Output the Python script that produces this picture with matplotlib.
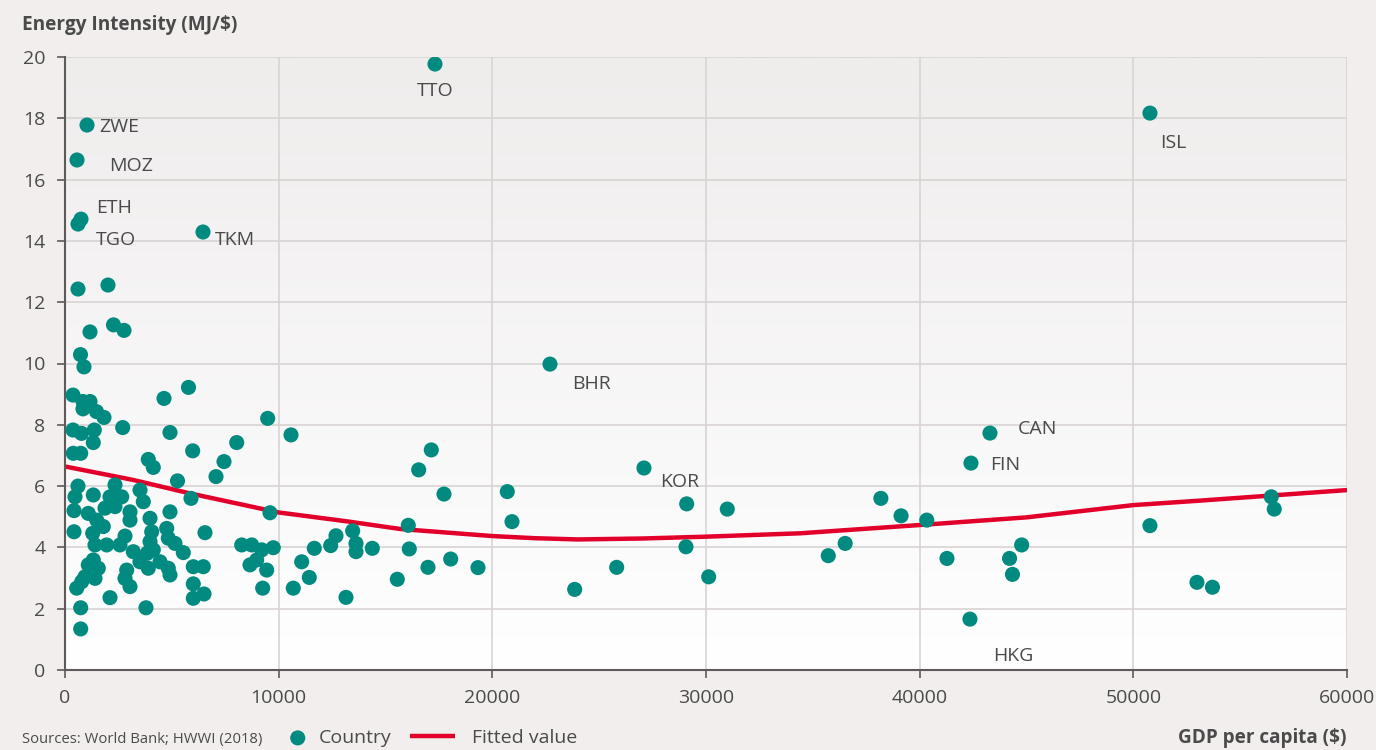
import numpy as np
import matplotlib
matplotlib.use("Agg")
import matplotlib.pyplot as plt
from matplotlib.colors import LinearSegmentedColormap

plt.rcParams['font.family'] = ['Open Sans', 'DejaVu Sans']

# GDP per capita ($) and energy intensity (MJ/$)
gdp = [
    608, 2012, 2270, 2761, 1170, 725, 889,
    374, 842, 1170, 842, 1474, 1825, 4633, 5780, 374, 772, 1371, 1324, 2700,
    4914, 5976, 388, 735, 3898, 4132, 5265,
    9486, 10577, 8036, 7441, 7067, 5897, 9594, 6552,
    608, 2340, 3510, 468, 1324, 2106, 2654, 3664, 421, 1090, 1872, 2340, 3042,
    3042, 3978, 4914, 1484, 1792, 421, 1296, 2808, 4058, 4760, 1404, 1952, 2574,
    3196, 3978, 4132, 3852, 4834, 5148, 5536, 1324, 1090, 1558, 3510, 3898, 4446,
    4834, 4914, 6004, 6472, 2888, 2808, 3042, 1404, 936, 782, 548, 2106, 3791,
    6004, 6004, 6505, 735, 735,
    8270, 8738, 9206, 9748, 8658, 8972, 9440, 9252, 10684, 11078, 11433, 11667, 12435,
    12683, 13464, 13619, 13619, 14382, 13151, 15552, 16066, 16113, 16553, 17143,
    17737, 16988, 18051, 19328, 20700, 20920, 23854,
    29096, 30996, 29063, 25820, 30125,
    38184, 39129, 40332, 36513, 35722, 41278, 44207, 44774, 44343, 50778, 52978,
    53703, 56455, 56595,
]
intensity = [
    12.43, 12.56, 11.26, 11.08, 11.03, 10.29, 9.89,
    8.97, 8.76, 8.76, 8.52, 8.43, 8.24, 8.86, 9.22, 7.83, 7.72, 7.83, 7.42, 7.91,
    7.75, 7.15, 7.07, 7.07, 6.87, 6.61, 6.17,
    8.21, 7.67, 7.42, 6.80, 6.31, 5.60, 5.13, 4.48,
    6.00, 6.04, 5.87, 5.65, 5.71, 5.65, 5.65, 5.49, 5.20, 5.11, 5.28, 5.33, 5.16,
    4.89, 4.95, 5.16, 4.89, 4.68, 4.51, 4.46, 4.37, 4.51, 4.62, 4.08, 4.08, 4.08,
    3.86, 4.19, 3.92, 3.81, 4.30, 4.13, 3.83, 3.59, 3.43, 3.32, 3.53, 3.32, 3.53,
    3.32, 3.10, 3.37, 3.37, 3.26, 2.99, 2.72, 2.99, 3.04, 2.88, 2.67, 2.36, 2.03,
    2.81, 2.34, 2.48, 2.03, 1.34,
    4.08, 4.08, 3.92, 3.99, 3.43, 3.59, 3.26, 2.67, 2.67, 3.53, 3.02, 3.97, 4.06,
    4.38, 4.54, 4.13, 3.86, 3.97, 2.37, 2.96, 4.72, 3.95, 6.53, 7.18,
    5.74, 3.35, 3.62, 3.34, 5.82, 4.84, 2.63,
    5.42, 5.25, 4.02, 3.35, 3.04,
    5.60, 5.03, 4.89, 4.13, 3.73, 3.64, 3.64, 4.08, 3.12, 4.71, 2.86,
    2.70, 5.65, 5.25,
]

# labelled countries
codes = ['TTO', 'ZWE', 'MOZ', 'ETH', 'TGO', 'TKM', 'ISL', 'BHR', 'CAN', 'FIN', 'KOR', 'HKG']
code_gdp = [17316, 1030, 562, 749, 608, 6458, 50778, 22698, 43290, 42401, 27097, 42354]
code_int = [19.77, 17.78, 16.64, 14.71, 14.55, 14.29, 18.17, 9.98, 7.73, 6.75, 6.59, 1.66]
# label offsets in pixels (dx, dy)
code_off = [(0, -27), (12, -2), (32, -6), (15, 11), (18, -16), (12, -8),
            (10, -30), (22, -20), (28, 4), (19, -2), (16, -14), (23, -37)]

# fitted curve
fit_x = [0, 3200, 5800, 10000, 13300, 15700, 20000, 22000, 24000, 27000, 30000,
         34400, 40000, 45000, 50000, 53000, 60000]
fit_y = [6.64, 6.20, 5.77, 5.14, 4.84, 4.60, 4.37, 4.30, 4.26, 4.29, 4.35,
         4.46, 4.73, 4.98, 5.38, 5.52, 5.87]

bg = '#f2eeed'
teal = '#008a80'
red = '#e2002a'
txt = '#4a4a4a'

fig = plt.figure(figsize=(13.76, 7.5), dpi=100, facecolor=bg)
ax = fig.add_axes([65 / 1376, 80 / 750, 1282 / 1376, 613 / 750])

# background gradient (grey at top to white at bottom)
cmap = LinearSegmentedColormap.from_list('bgfade', ['#efecec', '#ffffff'])
ax.imshow(np.linspace(0, 1, 256).reshape(-1, 1), extent=[0, 1, 0, 1],
          transform=ax.transAxes, cmap=cmap, aspect='auto', zorder=0)

line, = ax.plot(fit_x, fit_y, color=red, lw=3.2, zorder=2, solid_capstyle='butt',
                solid_joinstyle='round')
pts = ax.scatter(gdp + code_gdp, intensity + code_int, s=118, color=teal,
                 edgecolors='none', zorder=3)

for c, xv, yv, (dx, dy) in zip(codes, code_gdp, code_int, code_off):
    ax.annotate(c, (xv, yv), xytext=(dx, dy), textcoords='offset pixels',
                fontsize=14, color=txt, va='center', ha='left' if c != 'TTO' else 'center')

ax.set_xlim(0, 60000)
ax.set_ylim(0, 20)
ax.set_xticks(np.arange(0, 60001, 10000))
ax.set_yticks(np.arange(0, 21, 2))
ax.grid(color='#d9d4d4', lw=1.2)
ax.set_axisbelow(True)
for s in ['top', 'right']:
    ax.spines[s].set_visible(False)
for s in ['left', 'bottom']:
    ax.spines[s].set_color('#5e5a5a')
    ax.spines[s].set_linewidth(1.5)
ax.tick_params(length=6, width=1.2, color='#5e5a5a', labelsize=14,
               labelcolor=txt, pad=8)

fig.text(22 / 1376, 1 - 25 / 750, 'Energy Intensity (MJ/$)', fontsize=13.7,
         fontweight='bold', color=txt, va='center', ha='left')
fig.text(1347 / 1376, 1 - 738 / 750, 'GDP per capita ($)', fontsize=13.6,
         fontweight='bold', color=txt, va='center', ha='right')
fig.text(22 / 1376, 1 - 739 / 750, 'Sources: World Bank; HWWI (2018)', fontsize=10.7,
         color=txt, va='center', ha='left')

leg1 = fig.legend([pts], ['Country'], loc='center left',
                  bbox_to_anchor=(288 / 1376, 1 - 738 / 750), frameon=False,
                  fontsize=14, labelcolor=txt, handlelength=1.0, handletextpad=0.58,
                  borderpad=0, borderaxespad=0, scatterpoints=1)
leg2 = fig.legend([line], ['Fitted value'], loc='center left',
                  bbox_to_anchor=(410 / 1376, 1 - 738 / 750), frameon=False,
                  fontsize=14, labelcolor=txt, handlelength=2.32, handletextpad=0.88,
                  borderpad=0, borderaxespad=0)

fig.savefig('out.png', dpi=100, facecolor=bg)
